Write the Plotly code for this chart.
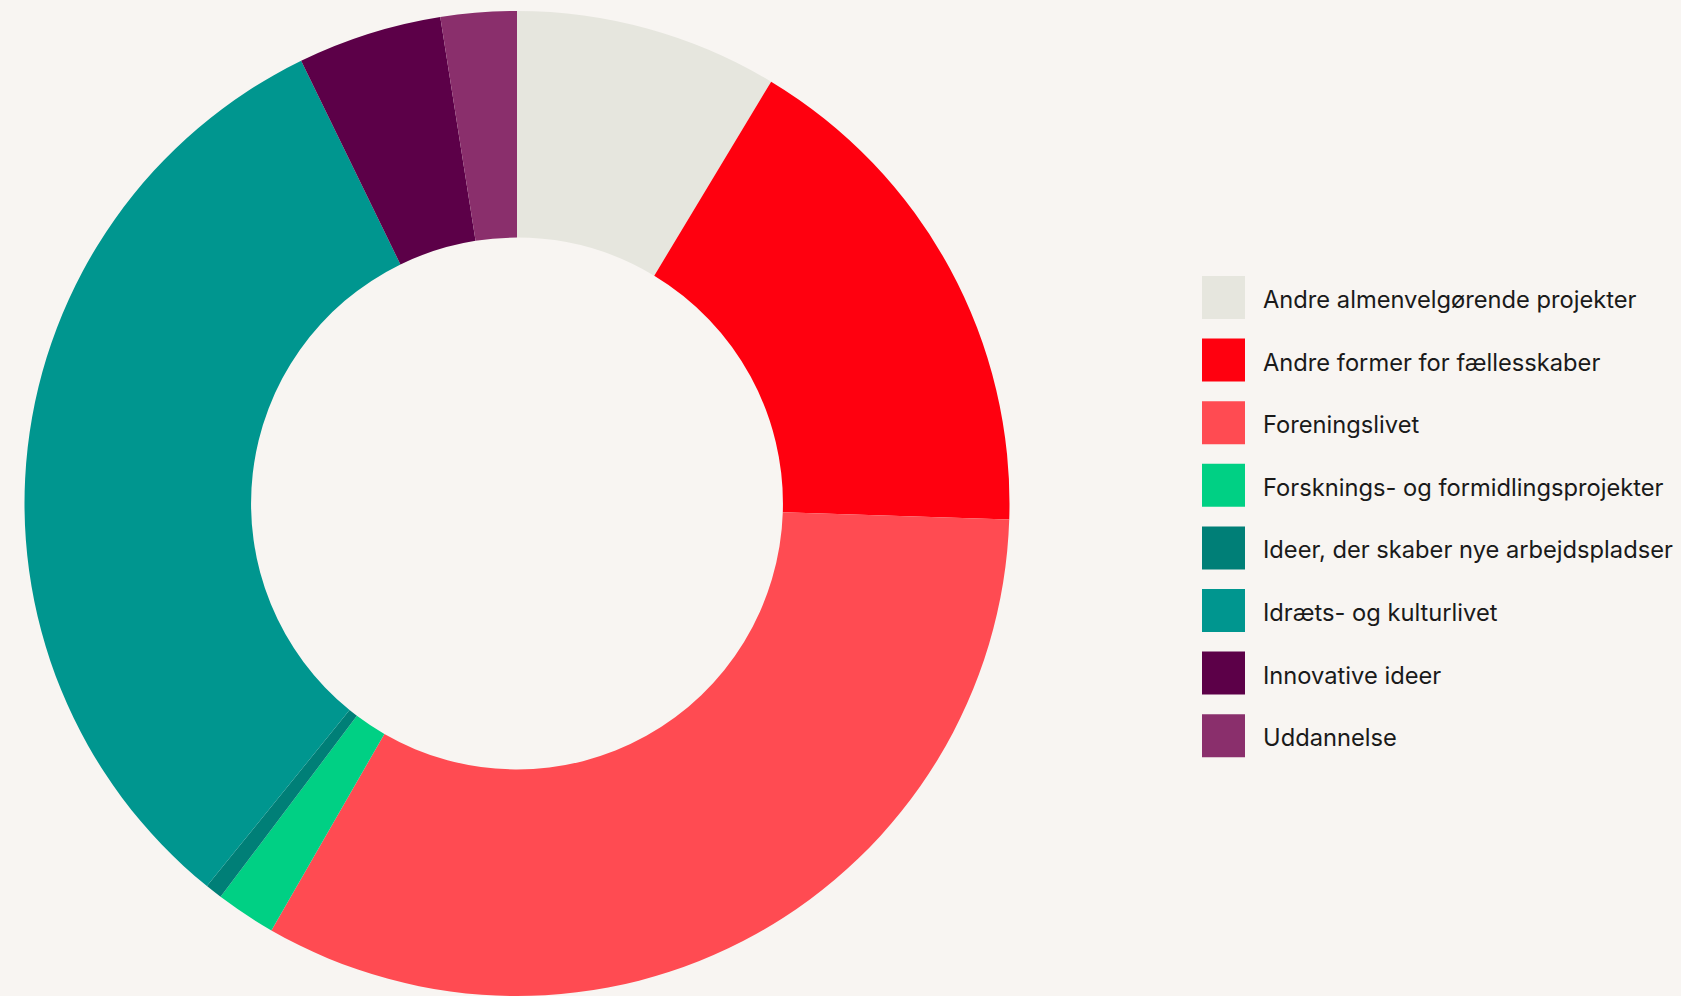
import plotly.graph_objects as go

categories = [
    "Andre almenvelgørende projekter",
    "Andre former for fællesskaber",
    "Foreningslivet",
    "Forsknings- og formidlingsprojekter",
    "Ideer, der skaber nye arbejdspladser",
    "Idræts- og kulturlivet",
    "Innovative ideer",
    "Uddannelse",
]
values = [8.63, 16.89, 32.79, 1.97, 0.56, 31.94, 4.73, 2.49]
colors = ["#E6E6DE", "#FF000F", "#FF4B52", "#00D084", "#007F77", "#00968F", "#5C0048", "#8A2F6C"]

W, H = 1681, 996
BG = "#F8F5F2"
top_m = 11
r = (H - top_m) / 2
cx = 517

fig = go.Figure()
fig.add_trace(go.Pie(
    labels=categories,
    values=values,
    marker=dict(colors=colors, line=dict(width=0)),
    hole=0.54,
    sort=False,
    direction="clockwise",
    rotation=0,
    textinfo="none",
    hoverinfo="label+percent",
    showlegend=False,
    domain=dict(x=[(cx - r) / W, (cx + r) / W], y=[0, 1]),
))

# custom legend (large swatches)
sw_x0, sw_x1 = 1202, 1245
sw_size = 43
first_cy = 297.5
step = 62.6
text_x = 1261
text_dy = 2
shapes = []
annotations = []
for i, (lab, col) in enumerate(zip(categories, colors)):
    cy = first_cy + i * step
    shapes.append(dict(
        type="rect", xref="paper", yref="paper",
        x0=sw_x0 / W, x1=sw_x1 / W,
        y0=1 - (cy + sw_size / 2 - top_m) / (H - top_m),
        y1=1 - (cy - sw_size / 2 - top_m) / (H - top_m),
        fillcolor=col, line=dict(width=0),
    ))
    annotations.append(dict(
        xref="paper", yref="paper",
        x=text_x / W, y=1 - (cy + text_dy - top_m) / (H - top_m),
        xanchor="left", yanchor="middle",
        text=lab, showarrow=False,
        font=dict(family="Inter", size=23.7, color="#1A1A1A"),
    ))

fig.update_layout(
    width=W, height=H,
    margin=dict(l=0, r=0, t=top_m, b=0, pad=0),
    paper_bgcolor=BG, plot_bgcolor=BG,
    shapes=shapes, annotations=annotations,
    showlegend=False,
)

fig.write_html(
    "out.html",
    config={"displayModeBar": False},
    post_script="document.body.style.margin='0';document.body.style.overflow='hidden';document.body.style.background='%s';" % BG,
)
